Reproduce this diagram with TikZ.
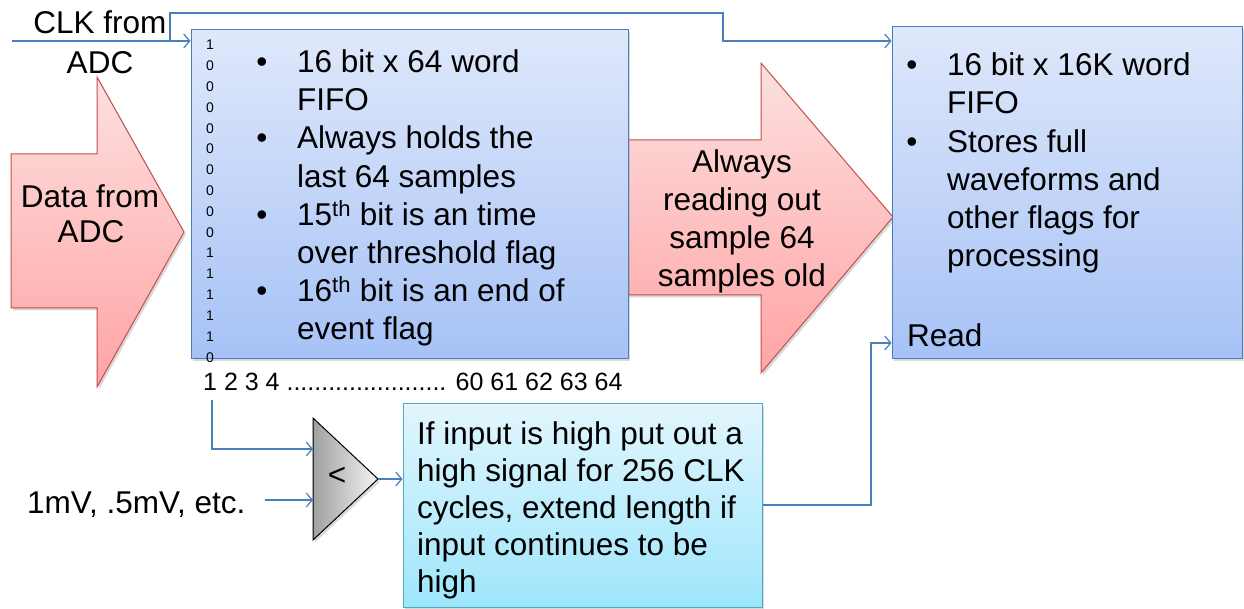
\documentclass[tikz,border=0pt]{standalone}
\usepackage{fontspec}
\setmainfont{Liberation Sans}
\usetikzlibrary{arrows.meta,shadows}
\definecolor{boxtop}{HTML}{DFE8FB}
\definecolor{boxbot}{HTML}{A6C2F6}
\definecolor{boxline}{HTML}{4A7EBB}
\definecolor{arrtop}{HTML}{FDE0E0}
\definecolor{arrbot}{HTML}{FFA4A4}
\definecolor{arrline}{HTML}{C0504D}
\definecolor{cyantop}{HTML}{E2F6FD}
\definecolor{cyanbot}{HTML}{9EE6FB}
\definecolor{cyanline}{HTML}{4BACC6}
\definecolor{connc}{HTML}{4A7EBB}
\definecolor{cmpdark}{HTML}{A0A0A0}
\definecolor{cmplight}{HTML}{F4F4F4}
\begin{document}
\begin{tikzpicture}[x=1pt,y=-1pt,
  big/.style={font=\fontsize{31.5}{38}\selectfont, inner sep=0pt},
  bitstyle/.style={font=\fontsize{14}{16}\selectfont, inner sep=0pt, anchor=base},
  idxstyle/.style={font=\fontsize{25}{28}\selectfont, inner sep=0pt, anchor=base west},
  shad/.style={drop shadow={shadow xshift=2pt, shadow yshift=-2.5pt, opacity=0.3}},
  bluebox/.style={draw=boxline, line width=1pt, top color=boxtop, bottom color=boxbot, inner sep=0pt, shad},
  cyanbox/.style={draw=cyanline, line width=1pt, top color=cyantop, bottom color=cyanbot, inner sep=0pt, shad},
  blockarrow/.style={draw=arrline, line width=1pt, top color=arrtop, bottom color=arrbot, line join=miter, shad},
  cmpshape/.style={draw=black, line width=1pt, left color=cmpdark, right color=cmplight, shad},
  conn/.style={draw=connc, line width=1.2pt, -{Straight Barb[length=6pt,width=14pt,line width=1.2pt]}},
]
\useasboundingbox (0,0) rectangle (1244,609);

% block arrows
\path[blockarrow] (11,154) -- (97,154) -- (97,77) -- (184,232) -- (97,387) -- (97,308) -- (11,308) -- cycle;
\path[blockarrow] (627,140) -- (761,140) -- (761,63) -- (893,217) -- (761,373) -- (761,295) -- (627,295) -- cycle;

% boxes
\node[bluebox, minimum width=437pt, minimum height=328pt] (fifo1) at (409.5,194) {};
\node[bluebox, minimum width=350pt, minimum height=331pt] (fifo2) at (1067,192.5) {};
\node[cyanbox, minimum width=359pt, minimum height=204pt] (cyan) at (582.5,505) {};

% comparator
\path[cmpshape] (313,418) -- (313,540) -- (378,479) -- cycle;
\coordinate (cmpin1) at (313,449);
\coordinate (cmpin2) at (313,500);
\coordinate (cmpout) at (378,479);
\node[big] (lt) at (337,476) {<};

% outside labels
\node[big, anchor=base] (clk1) at (100,34) {CLK from};
\node[big, anchor=base] (clk2) at (100,74) {ADC};
\node[big, anchor=base] (dat1) at (90,208) {Data from};
\node[big, anchor=base] (dat2) at (91,243) {ADC};
\node[big, anchor=base west] (thr) at (27,513) {1mV, .5mV, etc.};
\node[idxstyle] (idx) at (203,390) {1 2 3 4 ....................... 60 61 62 63 64};

% middle arrow text
\foreach \t [count=\i] in {Always, reading out, sample 64, samples old}
  \node[big, anchor=base] (mid\i) at (742,{173+37.8*(\i-1)}) {\t};

% bits column
\foreach \b [count=\i] in {1,0,0,0,0,0,0,0,0,0,1,1,1,1,1,0}
  \node[bitstyle] (bit\i) at (210,{50+20.8*(\i-1)}) {\b};

% FIFO 1 text
\foreach \y in {73,149,226,302}
  \node[big, anchor=base] (fb\y) at (262,\y) {•};
\node[big, anchor=base west] (fa1) at (297,73) {16 bit x 64 word};
\node[big, anchor=base west] (fa2) at (297,111) {FIFO};
\node[big, anchor=base west] (fa3) at (297,149) {Always holds the};
\node[big, anchor=base west] (fa4) at (297,188) {last 64 samples};
\node[big, anchor=base west] (fa5) at (297,226) {15\textsuperscript{th} bit is an time};
\node[big, anchor=base west] (fa6) at (297,264) {over threshold flag};
\node[big, anchor=base west] (fa7) at (297,302) {16\textsuperscript{th} bit is an end of};
\node[big, anchor=base west] (fa8) at (297,340) {event flag};

% FIFO 2 text
\foreach \y in {76,153}
  \node[big, anchor=base] (gb\y) at (912,\y) {•};
\node[big, anchor=base west] (ga1) at (947,76) {16 bit x 16K word};
\node[big, anchor=base west] (ga2) at (947,114) {FIFO};
\node[big, anchor=base west] (ga3) at (947,153) {Stores full};
\node[big, anchor=base west] (ga4) at (947,191) {waveforms and};
\node[big, anchor=base west] (ga5) at (947,229) {other flags for};
\node[big, anchor=base west] (ga6) at (947,267) {processing};
\node[big, anchor=base west] (read) at (907,346) {Read};

% cyan text
\foreach \t [count=\i] in {If input is high put out a, high signal for 256 CLK, {cycles, extend length if}, input continues to be, high}
  \node[big, anchor=base west] (cy\i) at (417,{444+37*(\i-1)}) {\t};

% connectors
\coordinate (clkstart) at (12,41);
\coordinate (clkj) at (170,41);
\coordinate (clkjog) at (723,13);
\coordinate (clk2y) at (723,41);
\draw[conn] (clkstart) -- (clkstart -| fifo1.west);
\draw[conn] (clkj) |- (clkjog) -- (clk2y) -- (clk2y -| fifo2.west);

\coordinate (bitstart) at (212,400);
\draw[conn] (bitstart) |- (cmpin1);
\coordinate (thrstart) at (265,500);
\draw[conn] (thrstart) -- (cmpin2);
\draw[conn] (cmpout) -- (cmpout -| cyan.west);

\coordinate (rdjog) at (871,505);
\coordinate (rdy) at (871,343);
\draw[conn] (cyan.east |- rdjog) -- (rdjog) -- (rdy) -- (rdy -| fifo2.west);
\end{tikzpicture}
\end{document}
